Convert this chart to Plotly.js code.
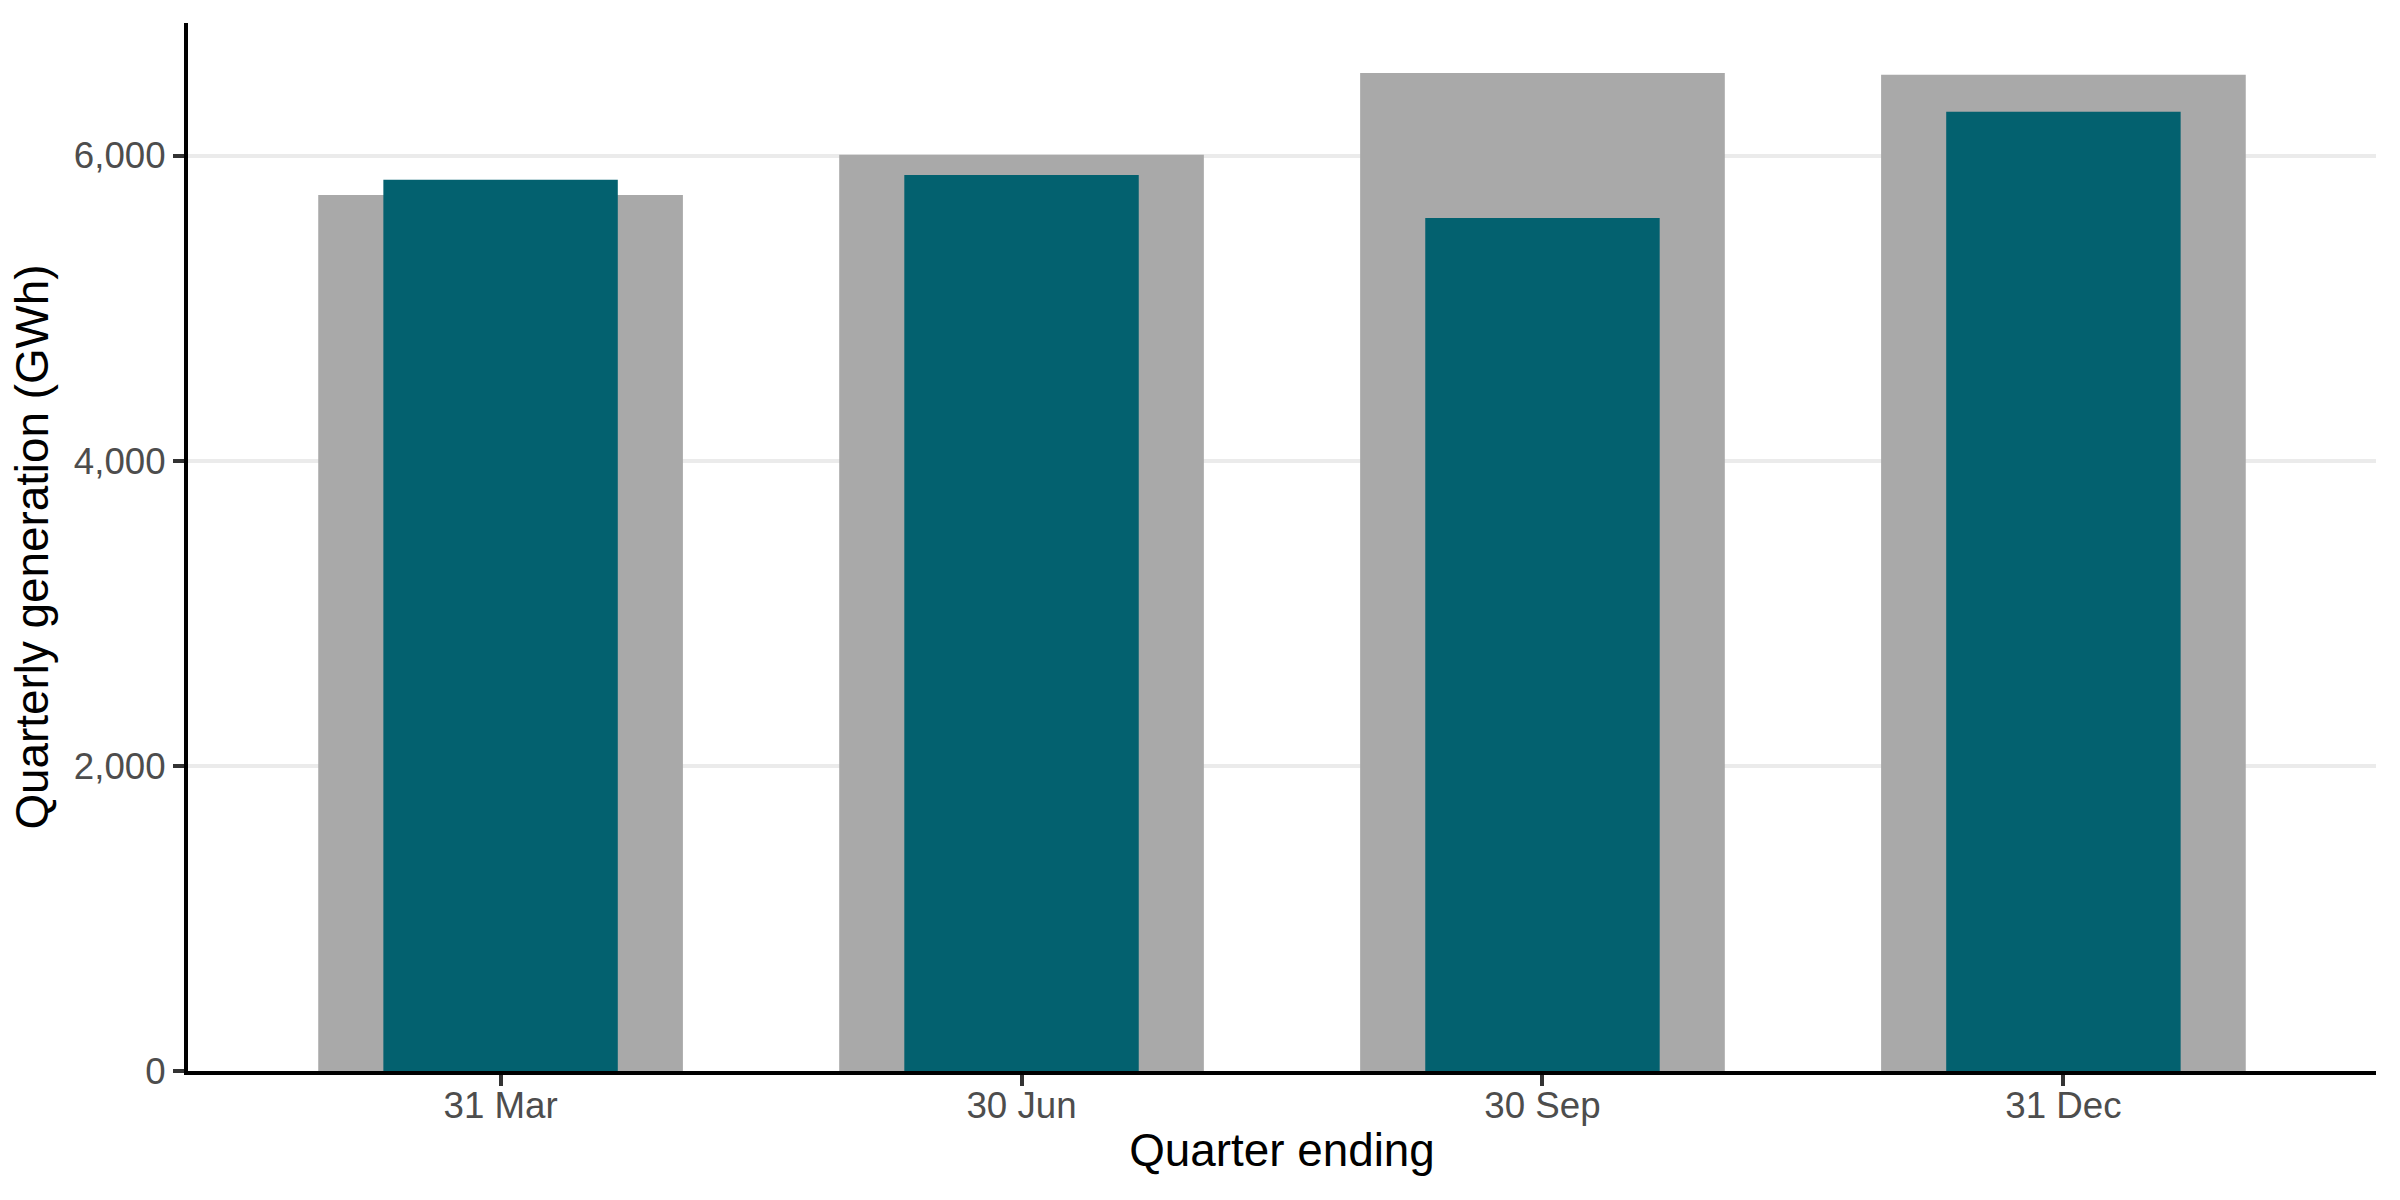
<!DOCTYPE html>
<html>
<head>
<meta charset="utf-8">
<script src="https://cdn.plot.ly/plotly-3.0.1.min.js"></script>
<style>
  html, body { margin: 0; padding: 0; background: #fff; }
  #figure { width: 2400px; height: 1200px; }
</style>
</head>
<body>
<div id="figure"></div>
<script>
FIGURE = document.getElementById('figure')

// quarter labels along the x axis
let quarters = ['31 Mar', '30 Jun', '30 Sep', '31 Dec']

// wide grey bars (background series) and narrow teal bars (front series), GWh
let backValues = [5742, 6006, 6542, 6530]
let frontValues = [5841, 5873, 5591, 6287]

let yTicks = [0, 2000, 4000, 6000]
let yTickText = ['0', '2,000', '4,000', '6,000']

let tickFont = {family: 'Liberation Sans, Arial, sans-serif', size: 36.7, color: '#4D4D4D'}
let titleFont = {family: 'Liberation Sans, Arial, sans-serif', size: 45.8, color: '#000000'}

let back = {
    type: 'bar',
    x: quarters,
    y: backValues,
    width: 0.7,
    marker: {color: '#A9A9A9'},
    hoverinfo: 'x+y',
    showlegend: false
}

let front = {
    type: 'bar',
    x: quarters,
    y: frontValues,
    width: 0.45,
    marker: {color: '#03616F'},
    hoverinfo: 'x+y',
    showlegend: false
}

let layout = {
    width: 2400,
    height: 1200,
    barmode: 'overlay',
    paper_bgcolor: '#ffffff',
    plot_bgcolor: '#ffffff',
    margin: {l: 188, r: 24, t: 23, b: 129, pad: 0},
    xaxis: {
        type: 'category',
        range: [-0.6, 3.6],
        showgrid: false,
        zeroline: false,
        showline: true,
        linecolor: '#000000',
        linewidth: 4,
        ticks: 'outside',
        ticklen: 11,
        tickwidth: 4,
        tickcolor: '#333333',
        tickfont: tickFont,
        ticklabelstandoff: -12,
        title: {text: 'Quarter ending', font: titleFont, standoff: 10},
        automargin: false
    },
    yaxis: {
        range: [0, 6869],
        tickvals: yTicks,
        ticktext: yTickText,
        showgrid: true,
        gridcolor: '#EBEBEB',
        gridwidth: 4,
        zeroline: false,
        showline: true,
        linecolor: '#000000',
        linewidth: 4,
        ticks: 'outside',
        ticklen: 11,
        tickwidth: 4,
        tickcolor: '#333333',
        tickfont: tickFont,
        title: {text: 'Quarterly generation (GWh)', font: titleFont, standoff: 12},
        automargin: false
    }
}

Plotly.newPlot(FIGURE, [back, front], layout, {displayModeBar: false, staticPlot: true})
</script>
</body>
</html>
